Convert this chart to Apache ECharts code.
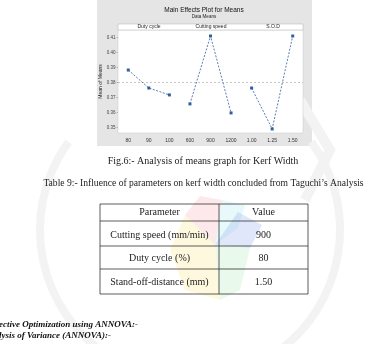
<!DOCTYPE html>
<html>
<head>
<meta charset="utf-8">
<script src="https://cdn.jsdelivr.net/npm/echarts@6/dist/echarts.min.js"></script>
<style>html,body{margin:0;padding:0;background:#fff;}#c{width:377px;height:344px;}</style>
</head>
<body>
<div id="c"></div>
<script>
// ---- data ----
var categories = ['80', '90', '100', '600', '900', '1200', '1.00', '1.25', '1.50'];
var factorNames = ['Duty cycle', 'Cutting speed', 'S.O.D'];
var dutyCycle = [0.3883, 0.3763, 0.3717];
var cuttingSpeed = [0.3657, 0.4110, 0.3597];
var sod = [0.3763, 0.3490, 0.4110];
var grandMean = 0.3788;
var yTicks = [0.35, 0.36, 0.37, 0.38, 0.39, 0.40, 0.41];
var tableRows = [
  ['Parameter', 'Value'],
  ['Cutting speed (mm/min)', '900'],
  ['Duty cycle (%)', '80'],
  ['Stand-off-distance (mm)', '1.50']
];

function pad(arr, offset) {
  var out = [];
  for (var i = 0; i < categories.length; i++) out.push(null);
  for (var j = 0; j < arr.length; j++) out[offset + j] = arr[j];
  return out;
}

var chart = echarts.init(document.getElementById('c'), null, {renderer: 'canvas'});
var blue = '#2f5f9f';
var sans = 'Liberation Sans';
var serif = 'Liberation Serif';

function lineSeries(arr, off) {
  return {
    type: 'line', data: pad(arr, off), connectNulls: false,
    symbol: 'rect', symbolSize: 3, showSymbol: true,
    itemStyle: {color: blue},
    lineStyle: {color: blue, width: 0.8, type: [2, 1.5]},
    z: 5
  };
}

var series = [lineSeries(dutyCycle, 0), lineSeries(cuttingSpeed, 3), lineSeries(sod, 6)];
series[0].markLine = {
  silent: true, symbol: 'none', label: {show: false},
  lineStyle: {color: '#a0a0a0', width: 0.6, type: [2, 2]},
  data: [{yAxis: grandMean}]
};

// table graphics
var tX0 = 100, tX1 = 219, tX2 = 308;
var rowLines = [204, 221, 246, 269, 294];
var rowText = [208, 231, 254, 278];
var graphics = [];
// gray panel
graphics.push({type: 'rect', shape: {x: 97, y: -2, width: 215, height: 148}, style: {fill: '#e5e5e5'}, z: -10});
// watermark laurel (faint)
var wm = '#f3f3f3';
graphics.push({type: 'arc', shape: {cx: 190, cy: 230, r: 150, startAngle: Math.PI * 0.62, endAngle: Math.PI * 1.2}, style: {stroke: wm, lineWidth: 8, fill: null}, z: -9});
graphics.push({type: 'arc', shape: {cx: 190, cy: 230, r: 150, startAngle: -Math.PI * 0.2, endAngle: Math.PI * 0.38}, style: {stroke: wm, lineWidth: 8, fill: null}, z: -9});
graphics.push({type: 'polyline', shape: {points: [[300, 100], [330, 150], [305, 200]]}, style: {stroke: wm, lineWidth: 10, fill: null}, z: -9});
// watermark pinwheel (faint)
var petals = [
  {c: 'rgba(240,120,130,0.16)', p: [[215, 245], [185, 215], [200, 196], [222, 200]]},
  {c: 'rgba(120,220,235,0.18)', p: [[215, 245], [222, 200], [245, 205], [238, 228]]},
  {c: 'rgba(90,120,230,0.18)', p: [[215, 245], [238, 212], [262, 225], [250, 248]]},
  {c: 'rgba(120,215,130,0.16)', p: [[215, 245], [250, 248], [240, 290], [220, 300]]},
  {c: 'rgba(250,225,90,0.20)', p: [[215, 245], [220, 300], [185, 290], [170, 250], [185, 215]]}
];
petals.forEach(function (pt) {
  graphics.push({type: 'polygon', shape: {points: pt.p}, style: {fill: pt.c}, z: -8});
});
// strip header
graphics.push({type: 'rect', shape: {x: 118, y: 24, width: 185, height: 6}, style: {fill: '#fff', stroke: '#b0b0b0', lineWidth: 0.5}, z: 2});
var groupCenters = [149, 211, 273];
factorNames.forEach(function (n, i) {
  graphics.push({type: 'text', x: groupCenters[i], y: 27, style: {text: n, font: '5px ' + sans, fill: '#222', align: 'center', verticalAlign: 'middle'}, z: 3});
});
// titles
graphics.push({type: 'text', x: 204, y: 10, style: {text: 'Main Effects Plot for Means', font: '6.5px ' + sans, fill: '#111', align: 'center', verticalAlign: 'middle'}, z: 3});
graphics.push({type: 'text', x: 204, y: 17, style: {text: 'Data Means', font: '4.5px ' + sans, fill: '#222', align: 'center', verticalAlign: 'middle'}, z: 3});
// caption
graphics.push({type: 'text', x: 203, y: 161, style: {text: 'Fig.6:- Analysis of means graph for Kerf Width', font: '10px ' + serif, fill: '#222', align: 'center', verticalAlign: 'middle'}});
graphics.push({type: 'text', x: 203.5, y: 183, style: {text: 'Table 9:- Influence of parameters on kerf width concluded from Taguchi\u2019s Analysis', font: '9.6px ' + serif, fill: '#222', align: 'center', verticalAlign: 'middle'}});
// table lines
rowLines.forEach(function (y) {
  graphics.push({type: 'line', shape: {x1: tX0, y1: y, x2: tX2, y2: y}, style: {stroke: '#333', lineWidth: 0.8}});
});
[tX0, tX1, tX2].forEach(function (x) {
  graphics.push({type: 'line', shape: {x1: x, y1: rowLines[0], x2: x, y2: rowLines[rowLines.length - 1]}, style: {stroke: '#333', lineWidth: 0.8}});
});
tableRows.forEach(function (r, i) {
  graphics.push({type: 'text', x: (tX0 + tX1) / 2, y: rowText[i] + 4, style: {text: r[0], font: '10px ' + serif, fill: '#222', align: 'center', verticalAlign: 'middle'}});
  graphics.push({type: 'text', x: (tX1 + tX2) / 2, y: rowText[i] + 4, style: {text: r[1], font: '10px ' + serif, fill: '#222', align: 'center', verticalAlign: 'middle'}});
});
// bottom text
graphics.push({type: 'text', x: -1, y: 325, style: {text: 'ective Optimization using ANNOVA:-', font: 'italic bold 9px ' + serif, fill: '#111', align: 'left', verticalAlign: 'middle'}});
graphics.push({type: 'text', x: -1, y: 336, style: {text: 'lysis of Variance (ANNOVA):-', font: 'italic bold 9px ' + serif, fill: '#111', align: 'left', verticalAlign: 'middle'}});

chart.setOption({
  animation: false,
  backgroundColor: '#ffffff',
  grid: {left: 118, top: 30, width: 185, height: 103, show: true, backgroundColor: '#ffffff', borderColor: '#c8c8c8', borderWidth: 0.5, z: 0},
  xAxis: {
    type: 'category', data: categories, boundaryGap: true,
    axisLine: {show: false}, axisTick: {show: false},
    axisLabel: {fontSize: 5, color: '#333', margin: 5, fontFamily: sans}
  },
  yAxis: {
    type: 'value', min: 0.3463, max: 0.415,
    name: 'Mean of Means', nameLocation: 'middle', nameGap: 13,
    nameTextStyle: {fontSize: 5, color: '#222', fontFamily: sans},
    splitLine: {show: false}, axisLine: {show: false},
    axisTick: {show: true, customValues: yTicks, length: 1.5, lineStyle: {color: '#888', width: 0.5}},
    axisLabel: {fontSize: 4.5, color: '#444', margin: 2.5, fontFamily: sans, customValues: yTicks, formatter: function (v) { return v.toFixed(2); }}
  },
  series: series,
  graphic: {elements: graphics}
});
</script>
</body>
</html>
